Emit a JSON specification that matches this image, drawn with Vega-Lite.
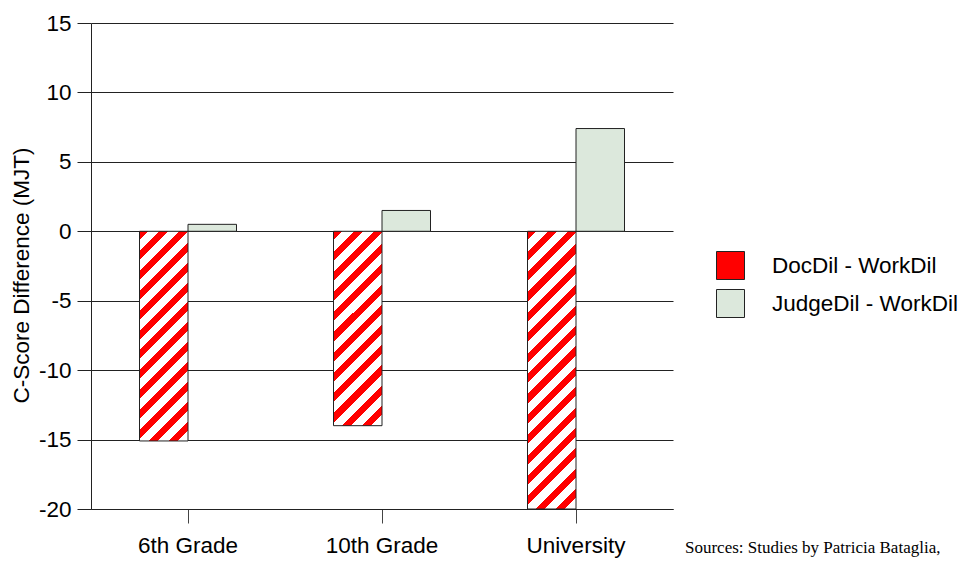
{
  "$schema": "https://vega.github.io/schema/vega-lite/v6.json",
  "width": 582,
  "height": 486,
  "autosize": "none",
  "padding": {"left": 91, "top": 23, "right": 293, "bottom": 54},
  "background": "white",
  "config": {"view": {"stroke": null}, "font": "Liberation Sans"},
  "title": {"text": "Sources: Studies by Patricia Bataglia,", "orient": "bottom", "anchor": "start", "frame": "group", "font": "Liberation Serif", "fontSize": 17, "fontWeight": "normal", "color": "black", "dx": 594, "dy": -17, "offset": 0},
  "data": {"values": [
    {"grade": "6th Grade", "series": "DocDil - WorkDil", "value": -15.1},
    {"grade": "6th Grade", "series": "JudgeDil - WorkDil", "value": 0.5},
    {"grade": "10th Grade", "series": "DocDil - WorkDil", "value": -14},
    {"grade": "10th Grade", "series": "JudgeDil - WorkDil", "value": 1.5},
    {"grade": "University", "series": "DocDil - WorkDil", "value": -20},
    {"grade": "University", "series": "JudgeDil - WorkDil", "value": 7.4}
  ]},
  "mark": {"type": "bar", "stroke": "#222", "strokeWidth": 1},
  "encoding": {
    "x": {"field": "grade", "type": "nominal", "sort": ["6th Grade", "10th Grade", "University"],
      "scale": {"paddingInner": 0.5, "paddingOuter": 0.25},
      "axis": {"title": null, "labelAngle": 0, "labelFontSize": 22.5, "labelColor": "black", "tickSize": 14, "tickColor": "#444", "labelPadding": 11, "domainColor": "#222", "grid": false}},
    "xOffset": {"field": "series", "type": "nominal", "sort": ["DocDil - WorkDil", "JudgeDil - WorkDil"]},
    "y": {"field": "value", "type": "quantitative", "scale": {"domain": [-20, 15], "nice": false},
      "axis": {"title": "C-Score Difference (MJT)", "values": [-20, -15, -10, -5, 0, 5, 10, 15], "labelExpr": "toString(datum.value)", "grid": true, "gridColor": "#222", "gridOpacity": 1, "tickSize": 14, "tickColor": "#222", "labelFontSize": 22.5, "labelColor": "black", "labelPadding": 6, "titleFontSize": 22.5, "titleFontWeight": "normal", "titleColor": "black", "titleX": -70, "titleY": 252, "titleBaseline": "middle", "titleAlign": "center", "titleAngle": -90, "domainColor": "#222"}},
    "fill": {
      "condition": [
        {"test": "datum.grade === '6th Grade' && datum.series === 'DocDil - WorkDil'", "value": {"gradient": "linear", "x1": 0, "y1": 0, "x2": 0.2703, "y2": 1.1689, "stops": [
          {"offset": 0, "color": "#ff0000"}, {"offset": 0.0346, "color": "#ff0000"}, {"offset": 0.0346, "color": "#ffffff"}, {"offset": 0.0769, "color": "#ffffff"},
          {"offset": 0.0769, "color": "#ff0000"}, {"offset": 0.1115, "color": "#ff0000"}, {"offset": 0.1115, "color": "#ffffff"}, {"offset": 0.1538, "color": "#ffffff"},
          {"offset": 0.1538, "color": "#ff0000"}, {"offset": 0.1885, "color": "#ff0000"}, {"offset": 0.1885, "color": "#ffffff"}, {"offset": 0.2308, "color": "#ffffff"},
          {"offset": 0.2308, "color": "#ff0000"}, {"offset": 0.2654, "color": "#ff0000"}, {"offset": 0.2654, "color": "#ffffff"}, {"offset": 0.3077, "color": "#ffffff"},
          {"offset": 0.3077, "color": "#ff0000"}, {"offset": 0.3423, "color": "#ff0000"}, {"offset": 0.3423, "color": "#ffffff"}, {"offset": 0.3846, "color": "#ffffff"},
          {"offset": 0.3846, "color": "#ff0000"}, {"offset": 0.4192, "color": "#ff0000"}, {"offset": 0.4192, "color": "#ffffff"}, {"offset": 0.4615, "color": "#ffffff"},
          {"offset": 0.4615, "color": "#ff0000"}, {"offset": 0.4962, "color": "#ff0000"}, {"offset": 0.4962, "color": "#ffffff"}, {"offset": 0.5385, "color": "#ffffff"},
          {"offset": 0.5385, "color": "#ff0000"}, {"offset": 0.5731, "color": "#ff0000"}, {"offset": 0.5731, "color": "#ffffff"}, {"offset": 0.6154, "color": "#ffffff"},
          {"offset": 0.6154, "color": "#ff0000"}, {"offset": 0.65, "color": "#ff0000"}, {"offset": 0.65, "color": "#ffffff"}, {"offset": 0.6923, "color": "#ffffff"},
          {"offset": 0.6923, "color": "#ff0000"}, {"offset": 0.7269, "color": "#ff0000"}, {"offset": 0.7269, "color": "#ffffff"}, {"offset": 0.7692, "color": "#ffffff"},
          {"offset": 0.7692, "color": "#ff0000"}, {"offset": 0.8038, "color": "#ff0000"}, {"offset": 0.8038, "color": "#ffffff"}, {"offset": 0.8462, "color": "#ffffff"},
          {"offset": 0.8462, "color": "#ff0000"}, {"offset": 0.8808, "color": "#ff0000"}, {"offset": 0.8808, "color": "#ffffff"}, {"offset": 0.9231, "color": "#ffffff"},
          {"offset": 0.9231, "color": "#ff0000"}, {"offset": 0.9577, "color": "#ff0000"}, {"offset": 0.9577, "color": "#ffffff"}, {"offset": 1, "color": "#ffffff"}
        ]}},
        {"test": "datum.grade === '10th Grade' && datum.series === 'DocDil - WorkDil'", "value": {"gradient": "linear", "x1": 0, "y1": 0, "x2": 0.2933, "y2": 1.1762, "stops": [
          {"offset": 0, "color": "#ff0000"}, {"offset": 0.0375, "color": "#ff0000"}, {"offset": 0.0375, "color": "#ffffff"}, {"offset": 0.0833, "color": "#ffffff"},
          {"offset": 0.0833, "color": "#ff0000"}, {"offset": 0.1208, "color": "#ff0000"}, {"offset": 0.1208, "color": "#ffffff"}, {"offset": 0.1667, "color": "#ffffff"},
          {"offset": 0.1667, "color": "#ff0000"}, {"offset": 0.2042, "color": "#ff0000"}, {"offset": 0.2042, "color": "#ffffff"}, {"offset": 0.25, "color": "#ffffff"},
          {"offset": 0.25, "color": "#ff0000"}, {"offset": 0.2875, "color": "#ff0000"}, {"offset": 0.2875, "color": "#ffffff"}, {"offset": 0.3333, "color": "#ffffff"},
          {"offset": 0.3333, "color": "#ff0000"}, {"offset": 0.3708, "color": "#ff0000"}, {"offset": 0.3708, "color": "#ffffff"}, {"offset": 0.4167, "color": "#ffffff"},
          {"offset": 0.4167, "color": "#ff0000"}, {"offset": 0.4542, "color": "#ff0000"}, {"offset": 0.4542, "color": "#ffffff"}, {"offset": 0.5, "color": "#ffffff"},
          {"offset": 0.5, "color": "#ff0000"}, {"offset": 0.5375, "color": "#ff0000"}, {"offset": 0.5375, "color": "#ffffff"}, {"offset": 0.5833, "color": "#ffffff"},
          {"offset": 0.5833, "color": "#ff0000"}, {"offset": 0.6208, "color": "#ff0000"}, {"offset": 0.6208, "color": "#ffffff"}, {"offset": 0.6667, "color": "#ffffff"},
          {"offset": 0.6667, "color": "#ff0000"}, {"offset": 0.7042, "color": "#ff0000"}, {"offset": 0.7042, "color": "#ffffff"}, {"offset": 0.75, "color": "#ffffff"},
          {"offset": 0.75, "color": "#ff0000"}, {"offset": 0.7875, "color": "#ff0000"}, {"offset": 0.7875, "color": "#ffffff"}, {"offset": 0.8333, "color": "#ffffff"},
          {"offset": 0.8333, "color": "#ff0000"}, {"offset": 0.8708, "color": "#ff0000"}, {"offset": 0.8708, "color": "#ffffff"}, {"offset": 0.9167, "color": "#ffffff"},
          {"offset": 0.9167, "color": "#ff0000"}, {"offset": 0.9542, "color": "#ff0000"}, {"offset": 0.9542, "color": "#ffffff"}, {"offset": 1, "color": "#ffffff"}
        ]}},
        {"test": "datum.grade === 'University' && datum.series === 'DocDil - WorkDil'", "value": {"gradient": "linear", "x1": 0, "y1": 0, "x2": 0.199, "y2": 1.1398, "stops": [
          {"offset": 0, "color": "#ff0000"}, {"offset": 0.0281, "color": "#ff0000"}, {"offset": 0.0281, "color": "#ffffff"}, {"offset": 0.0625, "color": "#ffffff"},
          {"offset": 0.0625, "color": "#ff0000"}, {"offset": 0.0906, "color": "#ff0000"}, {"offset": 0.0906, "color": "#ffffff"}, {"offset": 0.125, "color": "#ffffff"},
          {"offset": 0.125, "color": "#ff0000"}, {"offset": 0.1531, "color": "#ff0000"}, {"offset": 0.1531, "color": "#ffffff"}, {"offset": 0.1875, "color": "#ffffff"},
          {"offset": 0.1875, "color": "#ff0000"}, {"offset": 0.2156, "color": "#ff0000"}, {"offset": 0.2156, "color": "#ffffff"}, {"offset": 0.25, "color": "#ffffff"},
          {"offset": 0.25, "color": "#ff0000"}, {"offset": 0.2781, "color": "#ff0000"}, {"offset": 0.2781, "color": "#ffffff"}, {"offset": 0.3125, "color": "#ffffff"},
          {"offset": 0.3125, "color": "#ff0000"}, {"offset": 0.3406, "color": "#ff0000"}, {"offset": 0.3406, "color": "#ffffff"}, {"offset": 0.375, "color": "#ffffff"},
          {"offset": 0.375, "color": "#ff0000"}, {"offset": 0.4031, "color": "#ff0000"}, {"offset": 0.4031, "color": "#ffffff"}, {"offset": 0.4375, "color": "#ffffff"},
          {"offset": 0.4375, "color": "#ff0000"}, {"offset": 0.4656, "color": "#ff0000"}, {"offset": 0.4656, "color": "#ffffff"}, {"offset": 0.5, "color": "#ffffff"},
          {"offset": 0.5, "color": "#ff0000"}, {"offset": 0.5281, "color": "#ff0000"}, {"offset": 0.5281, "color": "#ffffff"}, {"offset": 0.5625, "color": "#ffffff"},
          {"offset": 0.5625, "color": "#ff0000"}, {"offset": 0.5906, "color": "#ff0000"}, {"offset": 0.5906, "color": "#ffffff"}, {"offset": 0.625, "color": "#ffffff"},
          {"offset": 0.625, "color": "#ff0000"}, {"offset": 0.6531, "color": "#ff0000"}, {"offset": 0.6531, "color": "#ffffff"}, {"offset": 0.6875, "color": "#ffffff"},
          {"offset": 0.6875, "color": "#ff0000"}, {"offset": 0.7156, "color": "#ff0000"}, {"offset": 0.7156, "color": "#ffffff"}, {"offset": 0.75, "color": "#ffffff"},
          {"offset": 0.75, "color": "#ff0000"}, {"offset": 0.7781, "color": "#ff0000"}, {"offset": 0.7781, "color": "#ffffff"}, {"offset": 0.8125, "color": "#ffffff"},
          {"offset": 0.8125, "color": "#ff0000"}, {"offset": 0.8406, "color": "#ff0000"}, {"offset": 0.8406, "color": "#ffffff"}, {"offset": 0.875, "color": "#ffffff"},
          {"offset": 0.875, "color": "#ff0000"}, {"offset": 0.9031, "color": "#ff0000"}, {"offset": 0.9031, "color": "#ffffff"}, {"offset": 0.9375, "color": "#ffffff"},
          {"offset": 0.9375, "color": "#ff0000"}, {"offset": 0.9656, "color": "#ff0000"}, {"offset": 0.9656, "color": "#ffffff"}, {"offset": 1, "color": "#ffffff"}
        ]}}
      ],
      "field": "series", "type": "nominal",
      "scale": {"domain": ["DocDil - WorkDil", "JudgeDil - WorkDil"], "range": ["#ff0000", "#dce8dc"]},
      "legend": {"orient": "none", "legendX": 625, "legendY": 228, "title": null, "symbolType": "square", "symbolSize": 784, "symbolStrokeColor": "#222", "symbolStrokeWidth": 1, "symbolOpacity": 1, "labelFontSize": 22.5, "labelFont": "Liberation Sans", "labelColor": "black", "labelOffset": 27, "labelLimit": 400, "rowPadding": 5, "padding": 0}
    }
  }
}
